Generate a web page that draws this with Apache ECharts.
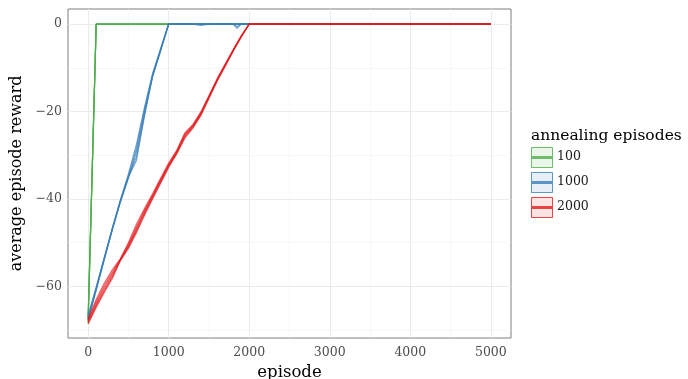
<!DOCTYPE html>
<html><head><meta charset="utf-8">
<script src="https://cdn.jsdelivr.net/npm/echarts@6/dist/echarts.min.js"></script>
<style>html,body{margin:0;padding:0;background:#fff}#c{width:688px;height:379px}</style>
</head><body><div id="c"></div>
<script>
// ---- data ----
const groups = ['100', '1000', '2000'];
const xTicks = [0, 1000, 2000, 3000, 4000, 5000];
const yTicks = [-60, -40, -20, 0];

const greenX = [0, 100, 5000];
const greenRuns = [
  [-66.8, 0, 0],
  [-67.3, 0, 0],
  [-67.6, 0, 0],
  [-68.0, 0, 0],
  [-68.5, 0, 0]
];

const blueX = [0, 100, 200, 300, 400, 500, 600, 700, 800, 900, 1000, 1300, 1400, 1500, 1800, 1850, 1900, 2000, 5000];
const blueRuns = [
  [-66.6, -60.2, -53.4, -46.6, -40.2, -34.3, -27.5, -19.0, -11.3, -5.6, 0, 0, 0, 0, 0, 0, 0, 0, 0],
  [-67.2, -60.6, -53.8, -46.9, -40.5, -34.8, -28.4, -19.6, -11.8, -5.9, 0, 0, -0.3, 0, 0, -0.6, 0, 0, 0],
  [-67.8, -60.9, -53.9, -47.1, -40.8, -35.3, -29.3, -20.2, -12.1, -6.0, 0, 0, 0, 0, 0, 0, 0, 0, 0],
  [-66.9, -60.3, -53.5, -46.8, -40.4, -34.9, -30.4, -20.6, -11.6, -5.8, 0, 0, 0, 0, 0, -1.0, 0, 0, 0],
  [-67.4, -60.7, -53.7, -47.0, -40.6, -35.0, -31.2, -21.0, -12.0, -6.1, 0, 0, 0, 0, 0, 0, 0, 0, 0]
];

const redX = [0, 100, 200, 300, 400, 500, 600, 700, 800, 900, 1000, 1100, 1200, 1300, 1400, 1500, 1600, 1700, 1800, 1900, 2000, 5000];
const redRuns = [
  [-67.4, -63.0, -59.3, -56.2, -53.7, -50.0, -45.8, -42.2, -38.8, -35.3, -31.8, -28.9, -24.9, -23.0, -20.1, -16.4, -12.6, -9.2, -5.9, -2.7, 0, 0],
  [-67.7, -63.5, -59.9, -56.8, -53.8, -50.4, -46.4, -42.6, -39.2, -35.6, -32.1, -29.1, -25.2, -23.2, -20.3, -16.5, -12.7, -9.3, -6.0, -2.8, 0, 0],
  [-68.0, -64.0, -60.5, -57.3, -53.9, -50.7, -46.9, -43.0, -39.4, -35.8, -32.3, -29.3, -25.5, -23.4, -20.5, -16.7, -12.9, -9.5, -6.1, -2.9, 0, 0],
  [-68.3, -64.4, -61.0, -57.8, -54.0, -51.0, -47.3, -43.3, -39.7, -36.1, -32.5, -29.5, -25.8, -23.6, -20.7, -16.8, -13.0, -9.6, -6.1, -2.9, 0, 0],
  [-68.6, -64.8, -61.4, -58.2, -54.1, -51.3, -47.7, -43.7, -40.0, -36.4, -32.8, -29.7, -26.1, -23.8, -20.9, -17.0, -13.1, -9.7, -6.2, -3.0, 0, 0]
];

const xMajorGrid = [0, 1000, 2000, 3000, 4000, 5000];
const xMinorGrid = [500, 1500, 2500, 3500, 4500];
const yMajorGrid = [-60, -40, -20, 0];
const yMinorGrid = [-70, -50, -30, -10];

// ---- chart ----
const colors = {'100': '#4daf4a', '1000': '#377eb8', '2000': '#e41a1c'};
const FONT = '"DejaVu Serif", serif';

function runSeries(name, xs, runs) {
  return runs.map(r => ({
    type: 'line', name: name, showSymbol: false, silent: true, animation: false,
    data: xs.map((x, i) => [x, r[i]]),
    lineStyle: {color: colors[name], width: 1.2, opacity: 0.7},
    itemStyle: {color: colors[name]}, z: 5
  }));
}

const gridSeries = {
  type: 'line', data: [], silent: true, animation: false, z: 1,
  markLine: {
    silent: true, symbol: 'none', animation: false, label: {show: false},
    data: [
      ...xMinorGrid.map(v => ({xAxis: v, lineStyle: {color: '#f4f4f4', width: 0.6, type: 'solid'}})),
      ...yMinorGrid.map(v => ({yAxis: v, lineStyle: {color: '#f4f4f4', width: 0.6, type: 'solid'}})),
      ...xMajorGrid.map(v => ({xAxis: v, lineStyle: {color: '#ebebeb', width: 1, type: 'solid'}})),
      ...yMajorGrid.map(v => ({yAxis: v, lineStyle: {color: '#ebebeb', width: 1, type: 'solid'}}))
    ]
  }
};

const chart = echarts.init(document.getElementById('c'), null, {renderer: 'canvas'});

// legend drawn as graphic keys
const legendGraphics = [{
  type: 'text', left: 531, top: 128,
  style: {text: 'annealing episodes', font: '15.5px ' + FONT, fill: '#000'}
}];
groups.forEach((g, i) => {
  const y0 = 147 + i * 25;
  legendGraphics.push({
    type: 'rect', shape: {x: 531.5, y: y0 + 0.5, width: 21, height: 20},
    style: {fill: echarts.color.modifyAlpha(colors[g], 0.15), stroke: colors[g], lineWidth: 1, opacity: 0.8}
  });
  legendGraphics.push({
    type: 'line', shape: {x1: 532, y1: y0 + 10.5, x2: 552, y2: y0 + 10.5},
    style: {stroke: colors[g], lineWidth: 3, opacity: 0.8}
  });
  legendGraphics.push({
    type: 'text', left: 557, top: y0 + 3,
    style: {text: g, font: '12.5px ' + FONT, fill: '#1a1a1a'}
  });
});

chart.setOption({
  animation: false,
  backgroundColor: '#fff',
  grid: {left: 68, right: 177, top: 9, bottom: 41, outerBoundsMode: 'none', containLabel: false,
    show: true, borderColor: '#7f7f7f', borderWidth: 1, backgroundColor: '#fff'},
  xAxis: {
    type: 'value', min: -250, max: 5250,
    axisLine: {show: false},
    splitLine: {show: false},
    axisTick: {show: true, customValues: xTicks, length: 3, lineStyle: {color: '#333'}},
    axisLabel: {customValues: xTicks, margin: 8, color: '#4d4d4d', fontFamily: 'DejaVu Serif', fontSize: 12.5,
      formatter: v => String(v)},
    name: 'episode', nameLocation: 'middle', nameGap: 25,
    nameTextStyle: {fontFamily: 'DejaVu Serif', fontSize: 16.5, color: '#000'}
  },
  yAxis: {
    type: 'value', min: -71.8, max: 3.44,
    axisLine: {show: false},
    splitLine: {show: false},
    axisTick: {show: true, customValues: yTicks, length: 3, lineStyle: {color: '#333'}},
    axisLabel: {customValues: yTicks, margin: 6, color: '#4d4d4d', fontFamily: 'DejaVu Serif', fontSize: 12.5,
      formatter: v => String(v).replace('-', '\u2212')},
    name: 'average episode reward', nameLocation: 'middle', nameGap: 39,
    nameTextStyle: {fontFamily: 'DejaVu Serif', fontSize: 16, color: '#000'}
  },
  graphic: legendGraphics,
  series: [
    gridSeries,
    ...runSeries('100', greenX, greenRuns),
    ...runSeries('1000', blueX, blueRuns),
    ...runSeries('2000', redX, redRuns)
  ]
});
</script></body></html>
